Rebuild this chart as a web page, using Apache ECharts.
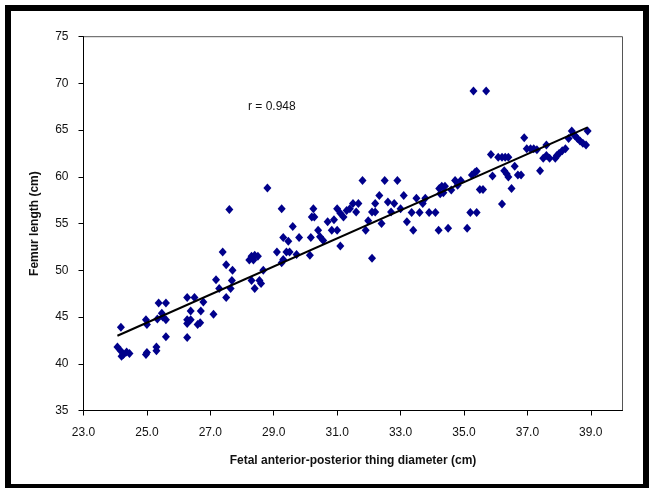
<!DOCTYPE html>
<html>
<head>
<meta charset="utf-8">
<script src="https://cdn.jsdelivr.net/npm/echarts@6/dist/echarts.min.js"></script>
<style>html,body{margin:0;padding:0;background:#fff}#c{width:651px;height:488px}</style>
</head>
<body>
<div id="c"></div>
<script>
var xVals = [24.07,24.17,24.2,24.26,24.36,24.45,24.18,24.97,25.0,24.97,25.0,25.3,25.3,25.37,25.6,25.47,25.33,25.6,25.5,25.6,
26.27,26.5,26.38,26.27,26.27,26.38,26.27,26.78,26.7,26.68,26.6,27.1,27.18,27.28,27.5,27.39,27.5,27.6,27.7,27.68,27.64,
28.23,28.3,28.4,28.5,28.36,28.3,28.4,28.55,28.6,28.67,28.8,29.1,29.3,29.46,29.5,29.4,29.25,29.3,29.6,29.72,29.8,29.25,
30.14,30.17,30.25,30.2,30.28,30.4,30.46,30.56,30.7,30.83,30.9,31.0,31.0,31.1,31.2,31.3,31.1,31.5,31.67,31.6,31.4,31.8,
31.9,31.98,32.1,32.1,32.2,32.2,32.33,32.4,32.5,32.6,32.7,32.8,32.9,33.0,33.1,33.2,33.35,33.5,33.6,33.4,33.7,33.78,33.9,
34.1,34.2,34.22,34.3,34.4,34.25,34.35,34.5,34.6,34.72,34.8,34.9,35.1,35.2,35.4,35.25,35.35,35.4,35.3,35.7,35.5,35.6,
35.85,35.9,36.08,36.2,36.3,36.4,36.2,36.27,36.35,36.4,36.5,36.6,36.7,36.8,36.9,36.98,37.1,37.2,37.3,37.4,37.5,37.6,37.6,
37.7,37.88,37.93,38.0,38.1,38.2,38.3,38.4,38.5,38.58,38.66,38.75,38.85,38.9,38.45];
var yVals = [41.8,41.4,40.8,41.0,41.25,41.1,43.9,44.7,44.2,41.0,41.2,41.8,41.4,46.5,46.5,45.4,44.8,44.7,45.0,42.9,
47.1,47.1,45.65,44.7,44.3,44.7,42.8,46.6,45.65,44.4,44.2,45.3,49.0,48.05,47.1,51.96,50.6,56.5,50.0,48.9,48.05,
51.1,51.5,51.6,51.5,51.1,48.9,48.05,48.9,48.6,50.0,58.8,51.96,53.5,53.1,51.96,51.96,50.8,51.15,54.7,51.7,53.5,56.6,
51.6,53.5,56.6,55.7,55.7,54.3,53.6,53.2,55.2,54.3,55.4,54.3,56.6,56.1,55.7,56.4,52.6,57.15,57.15,56.25,56.6,59.6,
54.3,55.3,51.3,56.25,56.25,57.15,58.0,55.0,59.6,57.3,56.25,57.15,59.6,56.6,58.0,55.2,56.2,57.7,56.2,54.3,57.15,57.7,56.2,
56.2,54.3,58.75,59.0,59.0,58.2,58.3,54.5,58.6,59.6,59.1,59.6,54.5,56.2,56.2,60.2,60.5,60.6,69.2,69.2,58.65,58.65,
62.4,60.1,62.1,62.1,62.1,62.1,57.1,60.65,60.3,60.0,58.75,61.15,60.2,60.2,64.2,63.0,63.0,63.0,62.9,60.65,62.0,63.4,62.3,
62.0,62.0,62.3,62.5,62.8,63.0,64.1,64.9,64.4,64.1,63.85,63.6,63.4,64.9,64.6];
var trendX = [24.07, 38.9];
var trendY = [43.0, 65.3];
var xTickValues = [23, 25, 27, 29, 31, 33, 35, 37, 39];
var yTickValues = [35, 40, 45, 50, 55, 60, 65, 70, 75];
var rText = 'r = 0.948';

var pts = xVals.map(function (x, i) { return [x, yVals[i]]; });
var trend = trendX.map(function (x, i) { return [x, trendY[i]]; });
var font = '"Liberation Sans", Arial, sans-serif';

var chart = echarts.init(document.getElementById('c'), null, {renderer: 'canvas'});
chart.setOption({
  backgroundColor: '#fff',
  animation: false,
  grid: {left: 83.5, right: 28.5, top: 36.7, bottom: 77.5, show: true, borderColor: '#555', borderWidth: 1, backgroundColor: 'transparent'},
  xAxis: {
    type: 'value', min: 23, max: 40, interval: 2,
    name: 'Fetal anterior-posterior thing diameter (cm)', nameLocation: 'middle', nameGap: 44,
    nameTextStyle: {fontFamily: font, fontWeight: 'bold', fontSize: 12, color: '#111'},
    axisLine: {show: true, onZero: false, lineStyle: {color: '#000', width: 1}},
    axisTick: {show: true, length: 5, lineStyle: {color: '#000'}},
    axisLabel: {showMaxLabel: false, margin: 16, fontFamily: font, fontSize: 12, color: '#111',
      formatter: function (v) { return xTickValues.indexOf(v) >= 0 ? v.toFixed(1) : ''; }},
    splitLine: {show: false}
  },
  yAxis: {
    type: 'value', min: 35, max: 75, interval: 5,
    name: 'Femur length (cm)', nameLocation: 'middle', nameGap: 43,
    nameTextStyle: {fontFamily: font, fontWeight: 'bold', fontSize: 12, color: '#111'},
    axisLine: {show: true, onZero: false, lineStyle: {color: '#000', width: 1}},
    axisTick: {show: true, length: 5, lineStyle: {color: '#000'}},
    axisLabel: {margin: 15, fontFamily: font, fontSize: 12, color: '#111',
      formatter: function (v) { return yTickValues.indexOf(v) >= 0 ? String(v) : ''; }},
    splitLine: {show: false}
  },
  series: [
    {type: 'scatter', data: pts, symbol: 'diamond', symbolSize: [8, 9],
     itemStyle: {color: '#00008b', opacity: 1}, z: 2},
    {type: 'line', data: trend, symbol: 'none', lineStyle: {color: '#000', width: 2}, z: 3}
  ],
  graphic: [
    {type: 'text', left: 248, top: 101, style: {text: rText, fontFamily: font, fontSize: 12, fill: '#111'}},
    {type: 'rect', shape: {x: 8, y: 8, width: 638, height: 479}, style: {fill: 'none', stroke: '#000', lineWidth: 6}, silent: true}
  ]
});
</script>
</body>
</html>
